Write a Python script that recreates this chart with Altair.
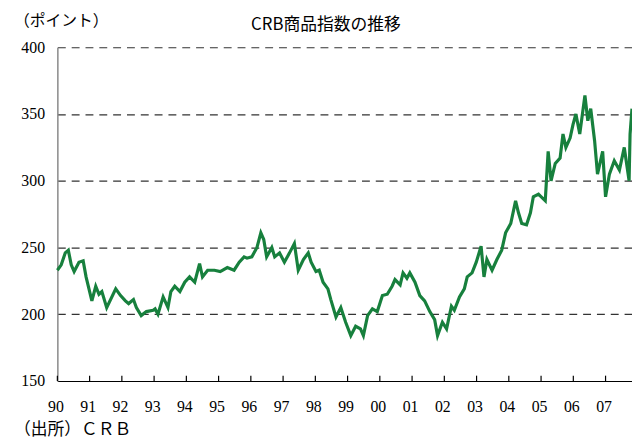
import altair as alt
import pandas as pd

# Decimal years (1990 = start of 1990)
years = [1990.00, 1990.12, 1990.245, 1990.34, 1990.43, 1990.52, 1990.67, 1990.80, 1990.89, 1990.98,
         1991.07, 1991.19, 1991.29, 1991.38, 1991.53, 1991.81, 1991.96,
         1992.11, 1992.21, 1992.36, 1992.45, 1992.60, 1992.76, 1992.97,
         1993.03, 1993.12, 1993.28, 1993.43, 1993.52, 1993.64, 1993.80, 1993.95,
         1994.10, 1994.26, 1994.41, 1994.50, 1994.66, 1994.87,
         1995.05, 1995.27, 1995.48, 1995.64, 1995.79, 1995.88,
         1996.03, 1996.19, 1996.31, 1996.40, 1996.49, 1996.65, 1996.74, 1996.89,
         1997.04, 1997.20, 1997.35, 1997.47, 1997.63, 1997.78, 1997.87,
         1998.02, 1998.12, 1998.24, 1998.39, 1998.48, 1998.64, 1998.79, 1998.94,
         1999.10, 1999.25, 1999.40, 1999.49, 1999.62, 1999.77, 1999.92,
         2000.08, 2000.23, 2000.38, 2000.47, 2000.63, 2000.72, 2000.84, 2000.93,
         2001.09, 2001.24, 2001.39, 2001.55, 2001.70, 2001.79, 2001.94,
         2002.07, 2002.22, 2002.31, 2002.47, 2002.62, 2002.71, 2002.86, 2002.99,
         2003.14, 2003.23, 2003.32, 2003.48, 2003.63, 2003.78, 2003.90,
         2004.06, 2004.21, 2004.30, 2004.40, 2004.55, 2004.67, 2004.76, 2004.92,
         2005.13, 2005.22, 2005.31, 2005.44, 2005.59, 2005.68, 2005.77, 2005.90, 2005.99,
         2006.08, 2006.20, 2006.36, 2006.45, 2006.54, 2006.66, 2006.75, 2006.91,
         2007.00, 2007.12, 2007.27, 2007.43, 2007.58, 2007.73, 2007.76, 2007.82]

values = [233, 237, 246, 248, 237, 232, 239, 240, 228, 219,
          210, 221, 215, 217, 205, 219, 214,
          210, 208, 211, 205, 199, 202, 203,
          204, 200, 213, 205, 217, 221, 217, 224,
          228, 224, 238, 228, 233, 233,
          232, 235, 233, 239, 243, 242,
          243, 250, 261, 256, 243, 250, 243, 246,
          239, 246, 253, 233, 241, 246, 239,
          232, 233, 224, 219, 211, 198, 205, 194,
          184, 191, 189, 184, 199, 204, 202,
          214, 215, 221, 226, 222, 231, 227, 231,
          224, 214, 210, 202, 196, 184, 194,
          189, 206, 203, 213, 219, 228, 231, 239,
          251, 228, 241, 233, 241, 248, 261,
          268, 285, 276, 268, 267, 276, 288, 290,
          285, 322, 300, 313, 317, 335, 325, 332, 342,
          350, 335, 364, 345, 354, 330, 305, 322,
          288, 305, 315, 308, 325, 300, 335, 354]

tick_years = list(range(1990, 2008))
y_ticks = [150, 200, 250, 300, 350, 400]

title_text = "CRB商品指数の推移"
unit_text = "（ポイント）"
source_text = "（出所）ＣＲＢ"

df = pd.DataFrame({"year": years, "value": values})
ticks_df = pd.DataFrame({"year": tick_years, "lo": [150] * len(tick_years), "hi": [154] * len(tick_years)})

x_scale = alt.Scale(domain=[1990, 2007.82], nice=False, zero=False)
y_scale = alt.Scale(domain=[150, 400], nice=False, zero=False)

num_font = "Liberation Serif"
jp_font = "Noto Sans CJK JP"

x_axis = alt.Axis(values=tick_years, title=None, grid=False, ticks=False,
                  labelExpr="(datum.value % 100 < 10 ? '0' : '') + (datum.value % 100)",
                  labelPadding=18, labelFlush=False, labelOverlap=False, labelOffset=-2,
                  domainColor="#000000", domainWidth=1.2)
y_axis = alt.Axis(values=y_ticks, title=None, grid=True, ticks=False,
                  labelPadding=13, domainColor="#888888", domainWidth=1.5)

line = alt.Chart(df).mark_line(color="#17803d", strokeWidth=3.2).encode(
    x=alt.X("year:Q", scale=x_scale, axis=x_axis),
    y=alt.Y("value:Q", scale=y_scale, axis=y_axis),
)

tick_marks = alt.Chart(ticks_df).mark_rule(color="#000000", strokeWidth=1.2).encode(
    x=alt.X("year:Q", scale=x_scale, axis=x_axis),
    y=alt.Y("lo:Q", scale=y_scale, axis=y_axis),
    y2="hi:Q",
)

title = alt.Chart(pd.DataFrame({"t": [title_text]})).mark_text(
    font=jp_font, fontSize=17, color="#000000", align="center", baseline="middle"
).encode(text="t:N", x=alt.value(272), y=alt.value(-23))

unit = alt.Chart(pd.DataFrame({"t": [unit_text]})).mark_text(
    font=jp_font, fontSize=16, color="#000000", align="left", baseline="middle"
).encode(text="t:N", x=alt.value(-44), y=alt.value(-27))

source = alt.Chart(pd.DataFrame({"t": [source_text]})).mark_text(
    font=jp_font, fontSize=17, color="#000000", align="left", baseline="middle"
).encode(text="t:N", x=alt.value(-44), y=alt.value(388))

chart = alt.layer(line, tick_marks, title, unit, source).properties(
    width=582, height=338,
    padding={"left": 50, "top": 37, "right": 0, "bottom": 60},
    autosize=alt.AutoSizeParams(type="none"),
).configure_view(
    stroke=None
).configure_axis(
    labelFont=num_font, labelFontSize=16, labelColor="#000000",
    gridDash=[8, 6], gridColor="#333333", gridWidth=1.2,
)

chart.save("out.html", embed_options={"renderer": "svg", "actions": False})
